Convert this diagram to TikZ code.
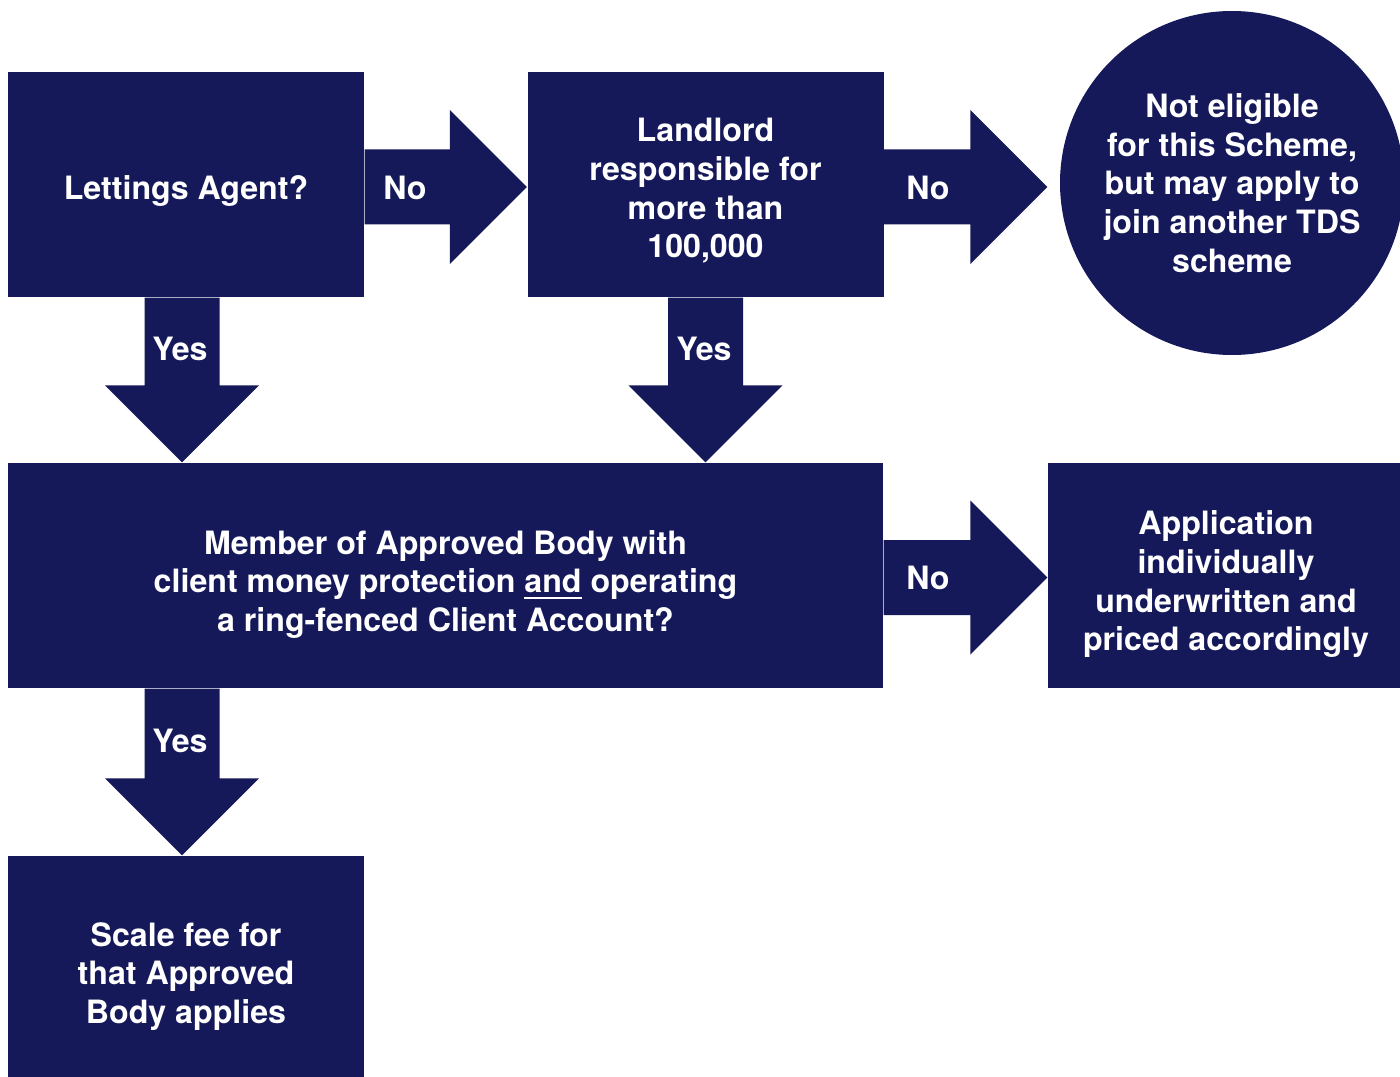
\documentclass[tikz,border=0pt]{standalone}
\usepackage{fontspec}
\setmainfont{TeX Gyre Heros}
\usetikzlibrary{calc,positioning,shapes}

\definecolor{tdsnavy}{RGB}{21,25,90}

% block arrows between two anchors
\newcommand{\flowright}[2]{%
  \fill[tdsnavy] let \p1=(#1), \p2=(#2) in
    (\x1,\y1+3.75mm) -- (\x2-7.7mm,\y1+3.75mm) -- (\x2-7.7mm,\y1+7.7mm) -- (\x2,\y1)
    -- (\x2-7.7mm,\y1-7.7mm) -- (\x2-7.7mm,\y1-3.75mm) -- (\x1,\y1-3.75mm) -- cycle;}
\newcommand{\flowdown}[2]{%
  \fill[tdsnavy] let \p1=(#1), \p2=(#2) in
    (\x1-3.75mm,\y1) -- (\x1-3.75mm,\y2+7.7mm) -- (\x1-7.7mm,\y2+7.7mm) -- (\x1,\y2)
    -- (\x1+7.7mm,\y2+7.7mm) -- (\x1+3.75mm,\y2+7.7mm) -- (\x1+3.75mm,\y1) -- cycle;}

\tikzset{
  flowtext/.style={text=white,font=\bfseries\fontsize{9.15}{11}\selectfont},
  flowbox/.style={rectangle,fill=tdsnavy,minimum width=3.56cm,minimum height=2.25cm,inner sep=0pt},
  boxtext/.style={flowtext,align=center,inner sep=0pt},
  flowlabel/.style={flowtext,inner sep=0pt}
}

\begin{document}
\begin{tikzpicture}[x=1cm,y=-1cm]
\useasboundingbox (0,0) rectangle (14,10.77);
\begin{scope}[every node/.style={flowbox}]
    \node (agent) at (1.86,1.845) {};
    \node (landlord) at (7.055,1.845) {};
    \node[minimum width=8.75cm] (member) at (4.455,5.755) {};
    \node (underwrite) at (12.26,5.755) {};
    \node (scale) at (1.86,9.685) {};
\end{scope}
\node[circle,fill=tdsnavy,flowtext,align=center,minimum size=3.44cm,inner sep=0pt]
    (ineligible) at (12.32,1.83) {Not eligible\\for this Scheme,\\but may apply to\\join another TDS\\scheme};

% box texts
\node[boxtext] (agenttext) at ([yshift=-0.65mm]agent.center) {Lettings Agent?};
\node[boxtext] (landlordtext) at ([yshift=-0.64mm]landlord.center) {Landlord\\responsible for\\more than\\100,000};
\node[boxtext] (membertext) at ([yshift=-0.9mm]member.center)
    {Member of Approved Body with\\client money protection \underline{and} operating\\a ring-fenced Client Account?};
\node[boxtext] (underwritetext) at ([yshift=-0.9mm]underwrite.center) {Application\\individually\\underwritten and\\priced accordingly};
\node[boxtext] (scaletext) at ([yshift=-0.8mm]scale.center) {Scale fee for\\that Approved\\Body applies};

\flowright{[yshift=-0.25mm]agent.east}{[yshift=-0.25mm]landlord.west}
\flowright{[yshift=-0.25mm]landlord.east}{[xshift=-1.2mm,yshift=-0.25mm]ineligible.west}
\flowright{[yshift=-0.2mm]member.east}{[yshift=-0.2mm]underwrite.west}
\flowdown{[xshift=-0.4mm]agent.south}{[xshift=-0.4mm]agent.south |- member.north}
\flowdown{landlord.south}{landlord.south |- member.north}
\flowdown{[xshift=-0.4mm]agent.south |- member.south}{[xshift=-0.4mm]agent.south |- scale.north}

\node[flowlabel] (noagent) at (4.05,1.875) {No};
\node[flowlabel] (nolandlord) at (9.28,1.875) {No};
\node[flowlabel] (nomember) at (9.28,5.78) {No};
\node[flowlabel] (yesagent) at (1.80,3.49) {Yes};
\node[flowlabel] (yeslandlord) at (7.04,3.49) {Yes};
\node[flowlabel] (yesmember) at (1.80,7.41) {Yes};
\end{tikzpicture}
\end{document}
